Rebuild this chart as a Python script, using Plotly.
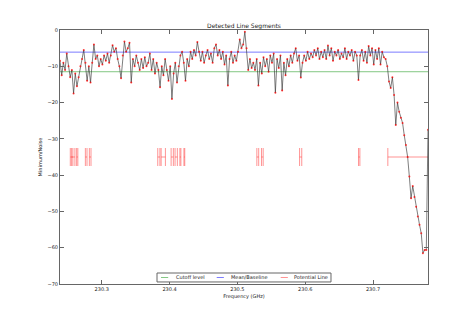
import numpy as np
import plotly.graph_objects as go

# Spectrum: frequency channels (GHz) and minimum/noise values
freq_start = 230.2385
freq_step = 0.0025
values = [
    -8.5, -12.5, -9, -11, -6.5, -10, -13, -11, -17.5, -12,
    -15.5, -13, -10, -8, -5.5, -9, -14, -10, -14.5, -9,
    -4, -8, -7, -10, -8, -9.5, -7, -8.5, -6.5, -9,
    -7, -4.2, -6, -5, -8, -10, -13.3, -7, -3.2, -6,
    -5, -3.5, -14.5, -8, -10, -7, -9, -11, -8, -10.5,
    -7.5, -10, -9, -6.5, -11, -8, -12, -9, -11, -15.8,
    -10, -12.5, -8, -11, -14, -10, -19, -12, -9, -14.5,
    -10, -7, -6, -9, -14, -8, -10, -6, -8, -5.5,
    -7, -3.3, -6, -8.5, -6, -9, -7, -5.5, -8, -6.5,
    -9, -5, -4, -7, -5.5, -8, -6, -9.5, -7, -15.3,
    -8, -6, -9, -7, -8.5, -6, -2.6, -5, -4, -0.5,
    -5, -11, -8, -10.5, -9, -11, -8, -15.3, -9, -12,
    -7.5, -10, -8, -11.5, -7, -9, -6.5, -17.3, -8, -10.5,
    -7, -16.7, -9, -12.5, -8, -10, -7, -9, -6.5, -5,
    -8.5, -7, -13.1, -9, -7, -8.5, -6, -8, -6.5, -7.5,
    -5.5, -7, -5, -8, -6, -7.5, -5.5, -8, -4.3, -7,
    -5, -8.5, -6, -7, -5.5, -8, -6.5, -7.5, -5, -8,
    -6, -7, -5.5, -8.5, -6, -7, -13.8, -7, -5.5, -8.5,
    -6, -9, -4.4, -7, -5, -9.5, -5.5, -8, -5, -9.5,
    -6, -7.5, -8, -10, -14.2, -16, -13, -17.9, -26.2, -20,
    -22.5, -24.2, -25.6, -29, -31.7, -35, -40.4, -46.4, -43, -46,
    -48.7, -51.4, -53.7, -56, -61.5, -60.6, -60.6, -27.5,
]
freq = freq_start + freq_step * np.arange(len(values))

mean_level = -6.1
cutoff_level = -11.5
line_y = -35.0

# Potential line segments (start, end in GHz)
seg_start = [230.2537, 230.2556, 230.2630, 230.2759, 230.2818, 230.3826, 230.3876,
             230.4023, 230.4081, 230.4152, 230.4212, 230.5287, 230.5355, 230.5917,
             230.6786, 230.7218]
seg_end = [230.2575, 230.2605, 230.2648, 230.2783, 230.2842, 230.3858, 230.3939,
           230.4056, 230.4115, 230.4167, 230.4224, 230.5314, 230.5380, 230.5949,
           230.6806, 230.8410]

legend_names = ["Cutoff level", "Mean/Baseline", "Potential Line"]

xmin, xmax = float(freq[0]), float(freq[-1])
font = "DejaVu Sans"
red = "rgba(255,60,60,0.55)"
green = "rgba(90,180,90,0.75)"
blue = "rgba(90,90,255,0.8)"

fig = go.Figure()

fig.add_trace(go.Scatter(x=[xmin, xmax], y=[cutoff_level, cutoff_level], mode="lines",
                         line=dict(color=green, width=1), name=legend_names[0], showlegend=False))
fig.add_trace(go.Scatter(x=[xmin, xmax], y=[mean_level, mean_level], mode="lines",
                         line=dict(color=blue, width=1), name=legend_names[1], showlegend=False))

centers = [(a + b) / 2 for a, b in zip(seg_start, seg_end)]
halfw = [(b - a) / 2 for a, b in zip(seg_start, seg_end)]
fig.add_trace(go.Scatter(x=centers, y=[line_y] * len(centers), mode="markers",
                         marker=dict(size=1, color="rgba(0,0,0,0)"),
                         error_x=dict(type="data", array=halfw, color=red, thickness=1, width=9),
                         name=legend_names[2], showlegend=False))

fig.add_trace(go.Scatter(x=freq, y=values, mode="lines+markers",
                         line=dict(color="rgba(50,50,50,0.7)", width=0.9),
                         marker=dict(color="rgba(255,0,0,0.75)", size=2),
                         showlegend=False))

axis_common = dict(showline=True, linecolor="#666", linewidth=1, mirror="allticks",
                   ticks="inside", ticklen=4, tickcolor="#666", showgrid=False,
                   zeroline=False, tickfont=dict(family=font, size=5, color="#222"))

fig.update_xaxes(range=[xmin, xmax], tickvals=[230.3, 230.4, 230.5, 230.6, 230.7],
                 ticktext=["230.3", "230.4", "230.5", "230.6", "230.7"],
                 title=dict(text="Frequency (GHz)", font=dict(family=font, size=5, color="#222"),
                            standoff=3),
                 **axis_common)
fig.update_yaxes(range=[-70, 0], dtick=10,
                 title=dict(text="Minimum/Noise", font=dict(family=font, size=5, color="#222"),
                            standoff=4),
                 **axis_common)

# Hand-built legend box (matches matplotlib's compact legend)
shapes = [dict(type="rect", xref="paper", yref="paper", x0=0.2636, x1=0.7364, y0=0.008, y1=0.0433,
               line=dict(color="#666", width=1), fillcolor="white", layer="above")]
legend_colors = [green, blue, red]
legend_line_x = [0.2745, 0.4258, 0.5997]
legend_text_x = [0.3098, 0.4592, 0.6304]
annotations = []
for name, col, lx, tx in zip(legend_names, legend_colors, legend_line_x, legend_text_x):
    shapes.append(dict(type="line", xref="paper", yref="paper", x0=lx, x1=lx + 0.0195,
                       y0=0.0256, y1=0.0256, line=dict(color=col, width=1), layer="above"))
    annotations.append(dict(text=name, xref="paper", yref="paper", x=tx, y=0.0256,
                            xanchor="left", yanchor="middle", showarrow=False,
                            font=dict(family=font, size=5, color="#222")))

fig.update_layout(
    width=475, height=316,
    margin=dict(l=60, r=47, t=30, b=32),
    paper_bgcolor="white", plot_bgcolor="white",
    title=dict(text="Detected Line Segments", x=0.5, xref="paper", xanchor="center",
               y=1, yref="paper", yanchor="bottom", pad=dict(b=2),
               font=dict(family=font, size=6, color="#222")),
    shapes=shapes, annotations=annotations,
    showlegend=False,
)

fig.write_html("out.html")
